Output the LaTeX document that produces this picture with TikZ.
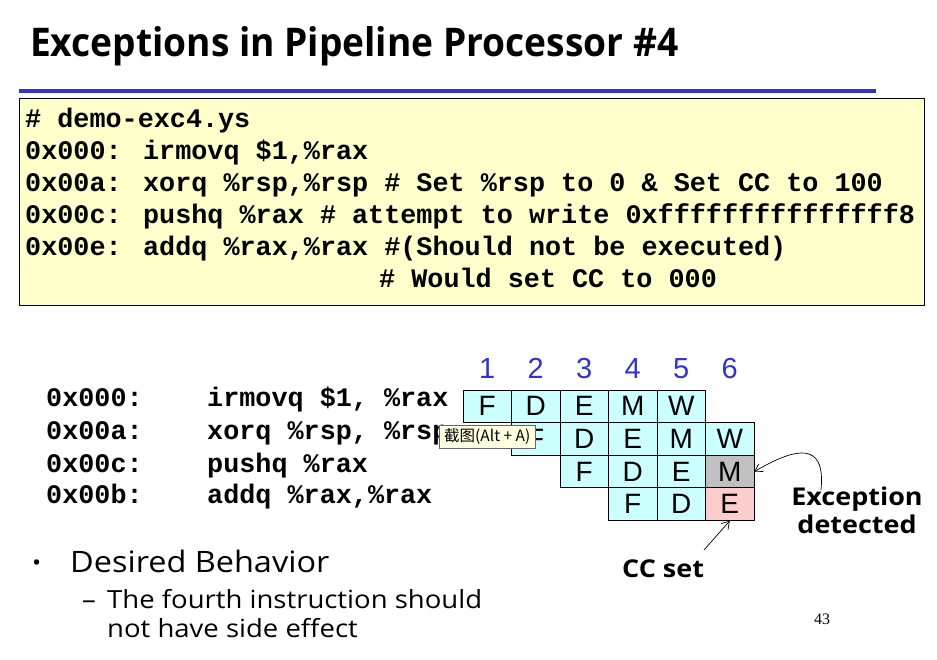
\documentclass[tikz,border=0pt]{standalone}
\usepackage{fontspec}
\setmainfont{Liberation Serif}
\newfontfamily\comicfont{Open Sans}[FakeStretch=1.1]
\newfontfamily\headfont{Open Sans}[FakeStretch=0.94]
\newfontfamily\codefont{Liberation Mono}
\newfontfamily\armfont{Liberation Sans}
\newfontfamily\cjkfont{Noto Sans CJK SC}
\usetikzlibrary{arrows.meta}
\definecolor{slideblue}{RGB}{51,51,204}
\definecolor{codebg}{RGB}{255,255,204}
\definecolor{cellcyan}{RGB}{204,255,255}
\definecolor{cellgray}{RGB}{192,192,192}
\definecolor{cellpink}{RGB}{255,204,204}
\definecolor{tipbg}{RGB}{255,255,225}
\begin{document}
\begin{tikzpicture}[x=1pt,y=-1pt,
  codeline/.style={anchor=base west,inner sep=0pt,font=\codefont\bfseries\fontsize{26.8}{30}\selectfont},
  stagecell/.style={draw=black,line width=0.8pt,fill=cellcyan,minimum width=48.5pt,minimum height=32.6pt,inner sep=0pt,
    font=\armfont\fontsize{28}{30}\selectfont},
  cyclenum/.style={anchor=base,inner sep=0pt,text=slideblue,font=\armfont\fontsize{29}{31}\selectfont},
  callout/.style={font=\comicfont\bfseries\fontsize{24.5}{27}\selectfont,align=center,inner sep=0pt},
  pointer/.style={-{Straight Barb[length=7pt,width=9pt]},line width=0.7pt}]
\useasboundingbox (0,0) rectangle (937,660);

% heading and rule
\node[anchor=base west,inner sep=0pt,font=\headfont\bfseries\fontsize{39.5}{44}\selectfont] (title) at (30,57) {Exceptions in Pipeline Processor \#4};
\draw[slideblue,line width=4.5pt] (19,91) -- (876,91);

% source listing
\node[draw=black,line width=0.8pt,fill=codebg,minimum width=905pt,minimum height=207pt,anchor=north west,inner sep=0pt] (codebox) at (19,98) {};
\node[codeline] (l0) at (25,128) {\# demo-exc4.ys};
\node[codeline] (l1) at (25,160) {0x000: irmovq \$1,\%rax};
\node[codeline] (l2) at (25,192) {0x00a: xorq \%rsp,\%rsp \# Set \%rsp to 0 \& Set CC to 100};
\node[codeline] (l3) at (25,224) {0x00c: pushq \%rax \# attempt to write 0xfffffffffffffff8};
\node[codeline] (l4) at (25,256) {0x00e: addq \%rax,\%rax \#(Should not be executed)};
\node[codeline] (l5) at (379,288) {\# Would set CC to 000};

% instruction list beside the pipeline
\node[codeline] (a1) at (46,406) {0x000:};
\node[codeline] (i1) at (207,406) {irmovq \$1, \%rax};
\node[codeline] (a2) at (46,439) {0x00a:};
\node[codeline] (i2) at (207,439) {xorq \%rsp, \%rsp};
\node[codeline] (a3) at (46,472) {0x00c:};
\node[codeline] (i3) at (207,472) {pushq \%rax};
\node[codeline] (a4) at (46,503) {0x00b:};
\node[codeline] (i4) at (207,503) {addq \%rax,\%rax};

% cycle numbers
\foreach \c in {1,...,6} {
  \node[cyclenum] (n\c) at ({463+48.5*(\c-0.5)},378) {\c};
}

% pipeline stages
\foreach \r/\first/\stages in {1/1/{F,D,E,M,W},2/2/{F,D,E,M,W},3/3/{F,D,E},4/4/{F,D}} {
  \foreach \s [count=\k from 0] in \stages {
    \pgfmathtruncatemacro{\col}{\first+\k}
    \node[stagecell] (s\r-\col) at ({463+48.5*(\col-0.5)},{390+32.6*(\r-0.5)}) {\s};
  }
}
\node[stagecell,fill=cellgray] (s3-6) at ({463+48.5*5.5},{390+32.6*2.5}) {M};
\node[stagecell,fill=cellpink] (s4-6) at ({463+48.5*5.5},{390+32.6*3.5}) {E};

% screenshot tooltip
\node[draw=black!60,line width=0.6pt,fill=tipbg,anchor=north west,minimum width=96pt,minimum height=23pt,inner sep=1pt,
  font=\cjkfont\fontsize{15.5}{17}\selectfont] (tip) at (439,425) {截图(Alt + A)};

% annotations
\node[callout] (exc) at (857,510) {Exception\\[1pt]detected};
\node[callout,anchor=base west] (cc) at (622,577) {CC set};
\coordinate (excstart) at (821,490);
\draw[pointer] (excstart) .. controls (826,440) and (795,448) .. (s3-6.east);
\coordinate (ccstart) at (704,550);
\draw[pointer] (ccstart) -- (s4-6.south);

% bullet text
\node[anchor=base west,inner sep=0pt,font=\comicfont\fontsize{22}{26}\selectfont] (bul) at (32,570) {\textbullet};
\node[anchor=base west,inner sep=0pt,font=\comicfont\fontsize{29.5}{34}\selectfont] (desired) at (70,572) {Desired Behavior};
\node[anchor=base west,inner sep=0pt,font=\comicfont\fontsize{25}{28}\selectfont] (dash) at (82,608) {\textendash};
\node[anchor=base west,inner sep=0pt,font=\comicfont\fontsize{25}{28}\selectfont] (sub1) at (107,608) {The fourth instruction should};
\node[anchor=base west,inner sep=0pt,font=\comicfont\fontsize{25}{28}\selectfont] (sub2) at (107,637) {not have side effect};

\node[anchor=base west,inner sep=0pt,font=\fontsize{16}{18}\selectfont] (page) at (814,624) {43};
\end{tikzpicture}
\end{document}
